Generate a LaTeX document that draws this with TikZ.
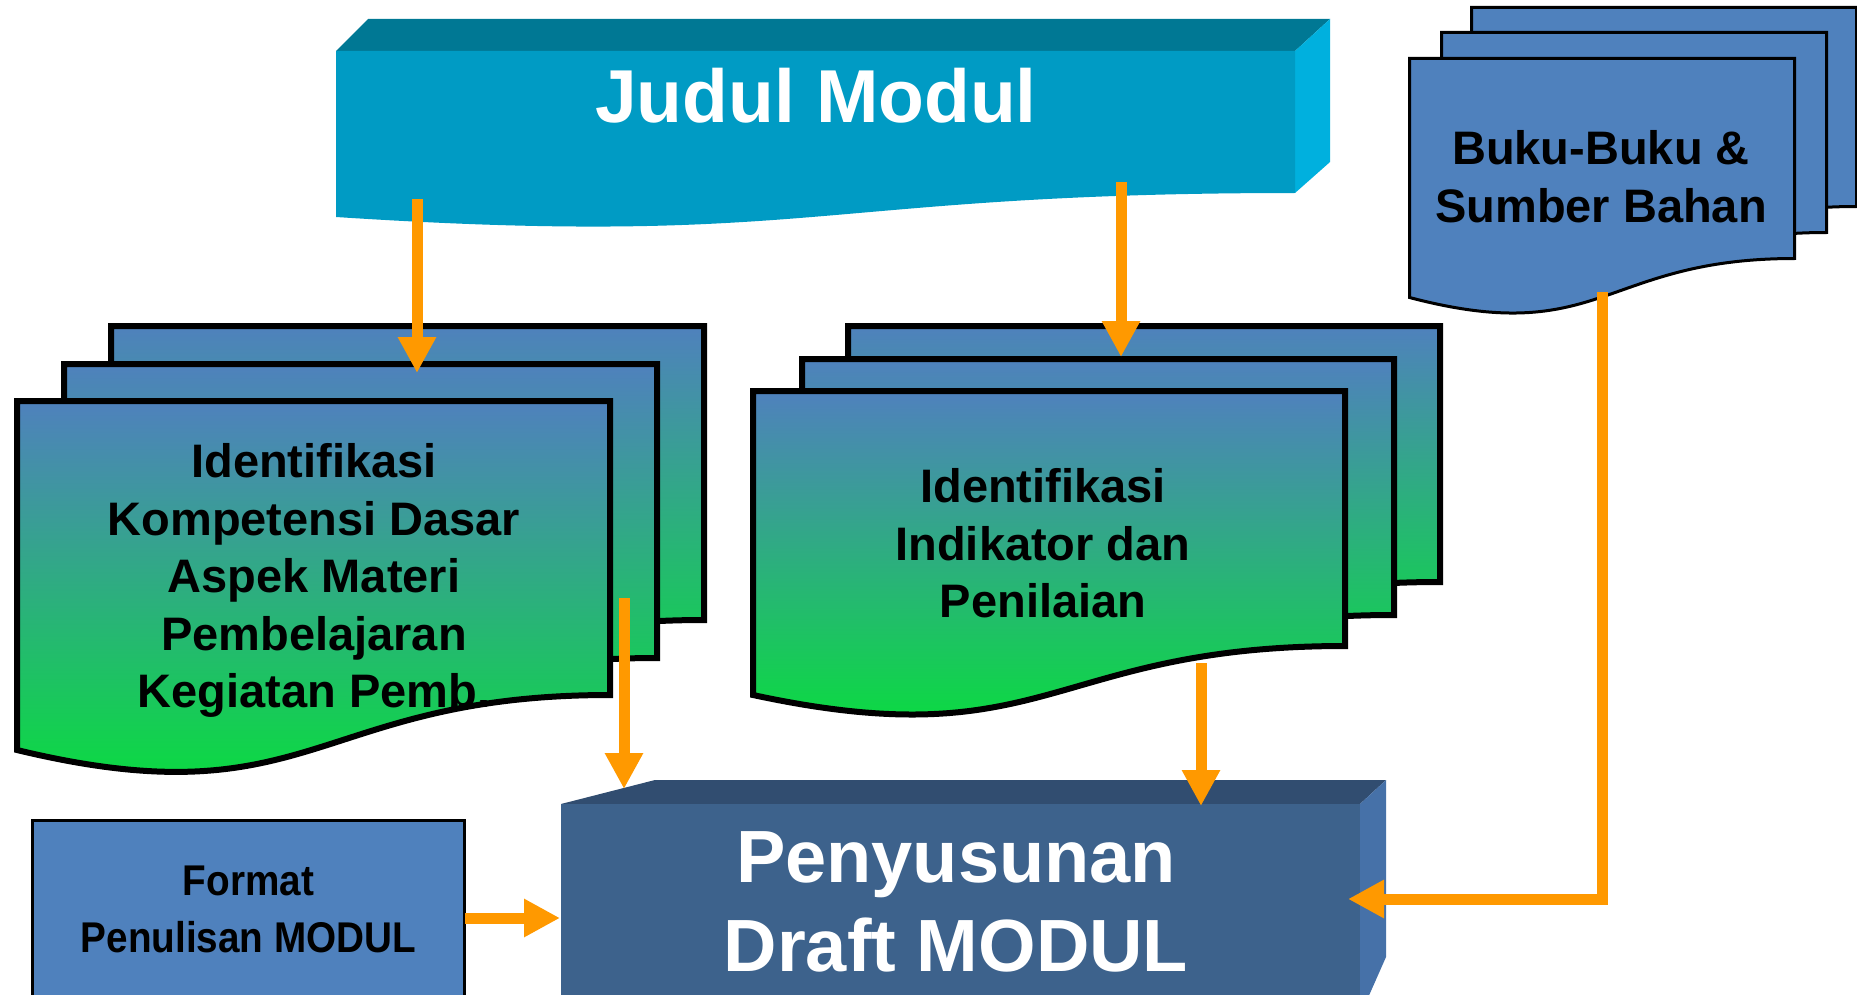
\documentclass[tikz,border=0pt]{standalone}
\usepackage{fontspec}
\setmainfont{Liberation Sans}
\newfontfamily\narrowfont[FakeStretch=0.9]{Liberation Sans}
\usetikzlibrary{arrows.meta}
\definecolor{orangeA}{RGB}{255,153,0}
\definecolor{sheetblue}{RGB}{79,129,189}
\definecolor{sheetgreen}{RGB}{4,228,52}
\definecolor{judulFront}{RGB}{0,155,196}
\definecolor{judulTop}{RGB}{0,120,148}
\definecolor{judulSide}{RGB}{0,176,222}
\definecolor{penFront}{RGB}{61,98,140}
\definecolor{penTop}{RGB}{49,77,112}
\definecolor{penSide}{RGB}{70,113,168}
% x0, y0, width, right-bottom height, left-bottom height, style
\newcommand\docshape[6]{%
  \path[#6] (#1,#2) -- ({#1+#3},#2) -- ({#1+#3},{#2+#4})
    .. controls ({#1+0.5*#3},{#2+#4}) and ({#1+0.5*#3},{#2+#4+2.3*(#5-#4)}) ..
    (#1,{#2+#5}) -- cycle;}
\begin{document}
\begin{tikzpicture}[x=1pt,y=-1pt,
  gradsheet/.style={draw=black,line width=6pt,top color=sheetblue,bottom color=sheetgreen,line join=miter},
  bukusheet/.style={draw=black,line width=3pt,fill=sheetblue},
  conn/.style={draw=orangeA,line width=11pt,line join=miter,-{Triangle[width=36pt,length=36pt]}},
  sheettext/.style={font=\bfseries\fontsize{47}{57.5}\selectfont,align=center,inner sep=0pt,text=black},
  bigtext/.style={font=\bfseries\fontsize{75}{89}\selectfont,align=center,inner sep=0pt,text=white}]
\clip (0,0) rectangle (1857,995);
\fill[white] (0,0) rectangle (1857,995);

% Judul Modul block
\fill[judulTop] (336,51) -- (368,19) -- (1330,19) -- (1295,51) -- cycle;
\fill[judulSide] (1295,51) -- (1330,19) -- (1330,162) -- (1295,193) -- cycle;
\docshape{336}{51}{959}{142}{166}{fill=judulFront}
\node[bigtext,anchor=base] (judul) at (816,123) {Judul Modul};

% Buku stack
\docshape{1471.5}{7.5}{385}{199}{238}{bukusheet}
\docshape{1441.5}{32.5}{385}{200}{239}{bukusheet}
\docshape{1409.5}{58.5}{385}{200}{239}{bukusheet}
\node[sheettext,font=\bfseries\fontsize{47}{58}\selectfont] (buku) at (1601,176.9) {Buku-Buku \&\\Sumber Bahan};

% Left stack
\docshape{111}{326}{593}{294}{349}{gradsheet}
\docshape{64}{364}{593}{294}{349}{gradsheet}
\docshape{17}{401}{593}{294}{349}{gradsheet}
\node[sheettext] (kd) at (314,580.8) {Identifikasi\\Kompetensi Dasar\\Aspek Materi\\Pembelajaran\\Kegiatan Pemb.};

% Right stack
\docshape{848}{326}{592}{256}{305}{gradsheet}
\docshape{802}{359}{592}{256}{305}{gradsheet}
\docshape{753}{391}{592}{255}{304}{gradsheet}
\node[sheettext] (ind) at (1043,543.4) {Identifikasi\\Indikator dan\\Penilaian};

% Format box
\draw[fill=sheetblue,line width=3pt] (32.5,820.5) rectangle (464.5,1010);
\node[inner sep=0pt,align=center,font=\narrowfont\bfseries\fontsize{43}{57}\selectfont] (format) at (248.5,909.1) {Format\\Penulisan MODUL};

% Penyusunan block
\fill[penTop] (561,804) -- (655,780) -- (1386,780) -- (1360,804) -- cycle;
\fill[penSide] (1360,804) -- (1386,780) -- (1386,957) -- (1367,1000) -- (1360,1000) -- cycle;
\fill[penFront] (561,804) rectangle (1360,1000);
\node[bigtext,font=\bfseries\fontsize{74}{89}\selectfont] (draft) at (956,902) {Penyusunan\\Draft MODUL};

% connector end points
\coordinate (judulL) at (417,199);
\coordinate (kdTop) at (417,373);
\coordinate (judulR) at (1121,182);
\coordinate (indTop) at (1121,357);
\coordinate (kdOut) at (624,598);
\coordinate (draftL) at (624,789);
\coordinate (indOut) at (1201,663);
\coordinate (draftT) at (1201,806);
\coordinate (formatR) at (465,918);
\coordinate (draftW) at (560,918);
\coordinate (bukuOut) at (1602,292);
\coordinate (bend) at (1602,899);
\coordinate (draftE) at (1348,899);

\draw[conn] (judulL) -- (kdTop);
\draw[conn] (judulR) -- (indTop);
\draw[conn] (kdOut) -- (draftL);
\draw[conn] (indOut) -- (draftT);
\draw[conn] (formatR) -- (draftW);
\draw[conn] (bukuOut) -- (bend) -- (draftE);
\end{tikzpicture}
\end{document}
